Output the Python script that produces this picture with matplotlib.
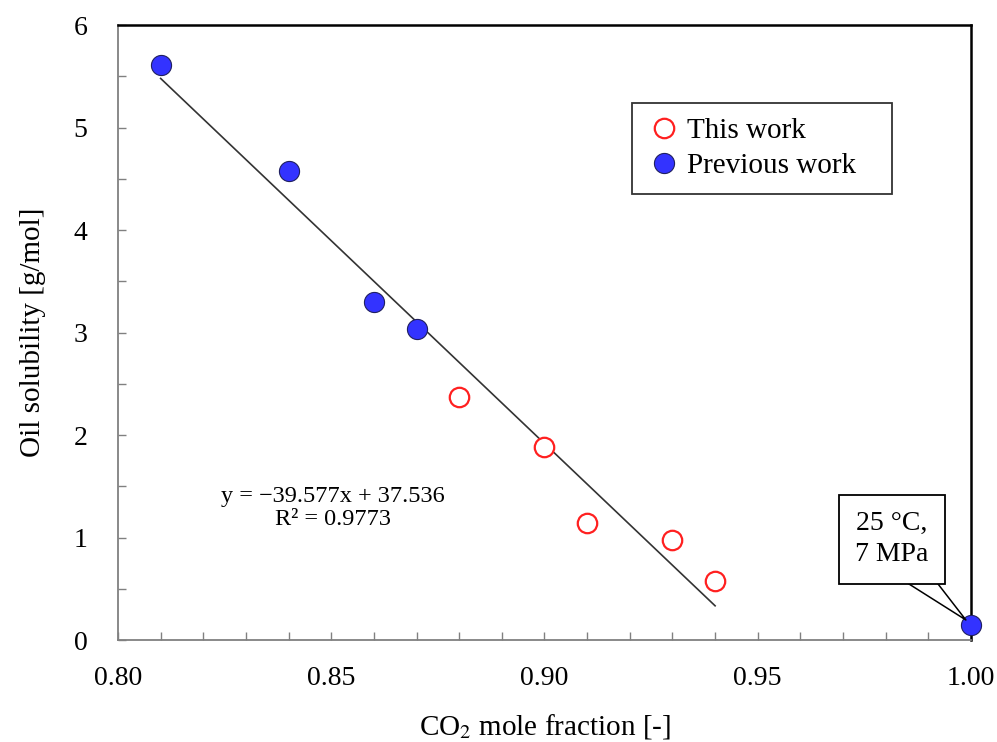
import numpy as np
import matplotlib
matplotlib.use("Agg")
import matplotlib.pyplot as plt
import matplotlib.ticker as ticker

# data
prev_x = [0.81, 0.84, 0.86, 0.87, 1.00]
prev_y = [5.61, 4.58, 3.30, 3.03, 0.15]
this_x = [0.88, 0.90, 0.91, 0.93, 0.94]
this_y = [2.37, 1.88, 1.14, 0.98, 0.58]

# linear fit shown on the chart
slope = -39.577
intercept = 37.536
r2 = 0.9773
fit_range = [0.81, 0.94]

plt.rcParams['font.family'] = ['Liberation Serif', 'DejaVu Serif']
plt.rcParams['mathtext.fontset'] = 'stix'

fig = plt.figure(figsize=(9.97, 7.42), dpi=100)
ax = fig.add_axes([118/997, 1-640/742, (971-118)/997, (640-25)/742])

fx = np.array(fit_range)
ax.plot(fx, slope*fx + intercept, color='#333333', lw=1.2, zorder=2)

h1, = ax.plot(this_x, this_y, 'o', ms=14, mfc='white', mec='#ff2020', mew=1.6,
              ls='none', label='This work', zorder=3)
h2, = ax.plot(prev_x, prev_y, 'o', ms=14.5, mfc='#3333ff', mec='#202060', mew=0.8,
              ls='none', label='Previous work', zorder=4, clip_on=False)

ax.set_xlim(0.80, 1.00)
ax.set_ylim(0, 6)
ax.xaxis.set_major_locator(ticker.MultipleLocator(0.05))
ax.xaxis.set_minor_locator(ticker.MultipleLocator(0.01))
ax.xaxis.set_major_formatter(ticker.FormatStrFormatter('%.2f'))
ax.yaxis.set_major_locator(ticker.MultipleLocator(1))
ax.yaxis.set_minor_locator(ticker.MultipleLocator(0.5))

ax.tick_params(which='both', direction='in', length=6, width=1, color='#808080',
               top=False, right=False)
ax.tick_params(axis='x', which='major', labelsize=20, pad=19)
ax.tick_params(axis='y', which='major', labelsize=20, pad=22)

for s in ['left', 'bottom']:
    ax.spines[s].set_color('#808080')
    ax.spines[s].set_linewidth(1.3)
for s in ['top', 'right']:
    ax.spines[s].set_color('black')
    ax.spines[s].set_linewidth(1.8)

ax.set_xlabel('CO$_2$ mole fraction [-]', fontsize=21, labelpad=15)
ax.set_ylabel('Oil solubility [g/mol]', fontsize=21, labelpad=20)

ax.text(0.8504, 1.29, 'y = \u221239.577x + 37.536\nR\u00b2 = 0.9773', fontsize=17.5,
        ha='center', va='center', linespacing=1.15)

leg = ax.legend(handles=[h1, h2], loc='upper left',
                bbox_to_anchor=(0.6026, 0.873, 0.305, 0.0), mode='expand',
                fontsize=21, frameon=True, fancybox=False, edgecolor='black',
                borderpad=0.5, handletextpad=0.2, handlelength=1.2, labelspacing=0.3,
                borderaxespad=0)
leg.get_frame().set_linewidth(1.3)

ax.annotate('25 \u00b0C,\n7 MPa', xy=(prev_x[-1], prev_y[-1]), xytext=(0.9815, 0.985),
            fontsize=20, ha='center', va='center', linespacing=1.3,
            bbox=dict(boxstyle='square,pad=0.6', fc='white', ec='black', lw=1.3),
            arrowprops=dict(arrowstyle='wedge,tail_width=1.0', fc='white', ec='black',
                            lw=1.1, relpos=(0.71, 0.0), patchA=None, shrinkA=0,
                            shrinkB=5),
            zorder=5, annotation_clip=False)

fig.savefig('out.png', dpi=100)
